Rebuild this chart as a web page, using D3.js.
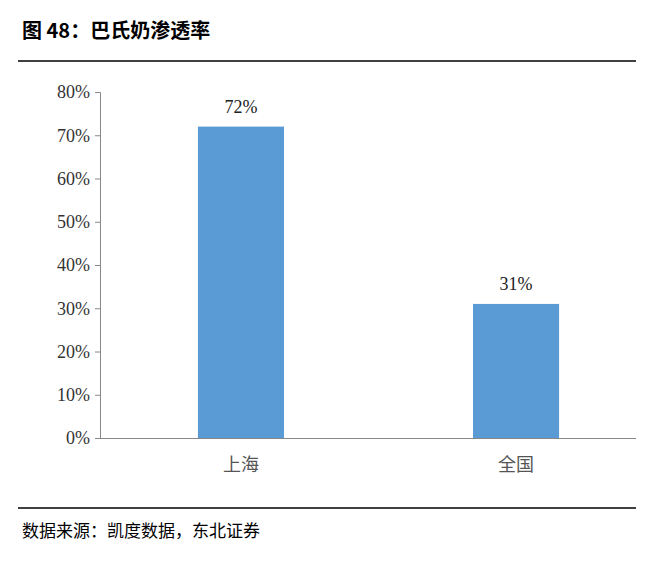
<!DOCTYPE html>
<html><head><meta charset="utf-8">
<script src="https://cdn.jsdelivr.net/npm/d3@7"></script>
<style>body{margin:0;background:#fff}</style>
</head><body>
<svg id="c" width="650" height="572"></svg>
<script>
const categories = ['上海', '全国'];
const values = [0.72, 0.31];
const yTicks = [0, 0.1, 0.2, 0.3, 0.4, 0.5, 0.6, 0.7, 0.8];

const svg = d3.select('#c');
const serif = '"Liberation Serif", "Times New Roman", serif';
const cjk = '"Noto Sans CJK SC", sans-serif';

svg.append('text').attr('x', 22).attr('y', 38)
	.attr('font-family', cjk).attr('font-weight', 'bold').attr('font-size', 20)
	.text('图 48：巴氏奶渗透率');
svg.append('line').attr('x1', 18).attr('x2', 636).attr('y1', 61).attr('y2', 61)
	.attr('stroke', '#000').attr('stroke-width', 1.5);

const x = d3.scaleBand().domain(categories).range([100, 657]).paddingInner(0.687).paddingOuter(0.356);
const y = d3.scaleLinear().domain([0, 0.8]).range([438, 92]);

const g = svg.append('g');
g.append('g').attr('transform', 'translate(100,0)')
	.call(d3.axisLeft(y).tickValues(yTicks).tickFormat(d3.format('.0%')).tickSize(5))
	.call(a => {
		a.select('.domain').attr('stroke', '#888');
		a.selectAll('line').attr('stroke', '#888');
		a.selectAll('text').attr('font-family', serif).attr('font-size', 18).attr('fill', '#333').attr('x', -10);
	});

g.selectAll('rect').data(values).enter().append('rect')
	.attr('x', (d, i) => x(categories[i])).attr('width', x.bandwidth())
	.attr('y', d => y(d)).attr('height', d => y(0) - y(d))
	.attr('fill', '#5B9BD5');

g.selectAll('.lbl').data(values).enter().append('text')
	.attr('x', (d, i) => x(categories[i]) + x.bandwidth() / 2).attr('y', d => y(d) - 14)
	.attr('text-anchor', 'middle').attr('font-family', serif).attr('font-size', 18).attr('fill', '#222')
	.text(d => d3.format('.0%')(d));

g.append('g').attr('transform', 'translate(0,438)')
	.call(d3.axisBottom(x).tickSize(0).tickPadding(20))
	.call(a => {
		a.select('.domain').remove();
		a.selectAll('text').attr('font-family', cjk).attr('font-size', 18).attr('fill', '#555');
	});
g.append('line').attr('x1', 100).attr('x2', 636).attr('y1', 438.5).attr('y2', 438.5)
	.attr('stroke', '#888');

svg.append('line').attr('x1', 18).attr('x2', 636).attr('y1', 508).attr('y2', 508)
	.attr('stroke', '#000').attr('stroke-width', 1.5);
svg.append('text').attr('x', 22).attr('y', 537)
	.attr('font-family', cjk).attr('font-size', 17)
	.text('数据来源：凯度数据，东北证券');
</script>
</body></html>
